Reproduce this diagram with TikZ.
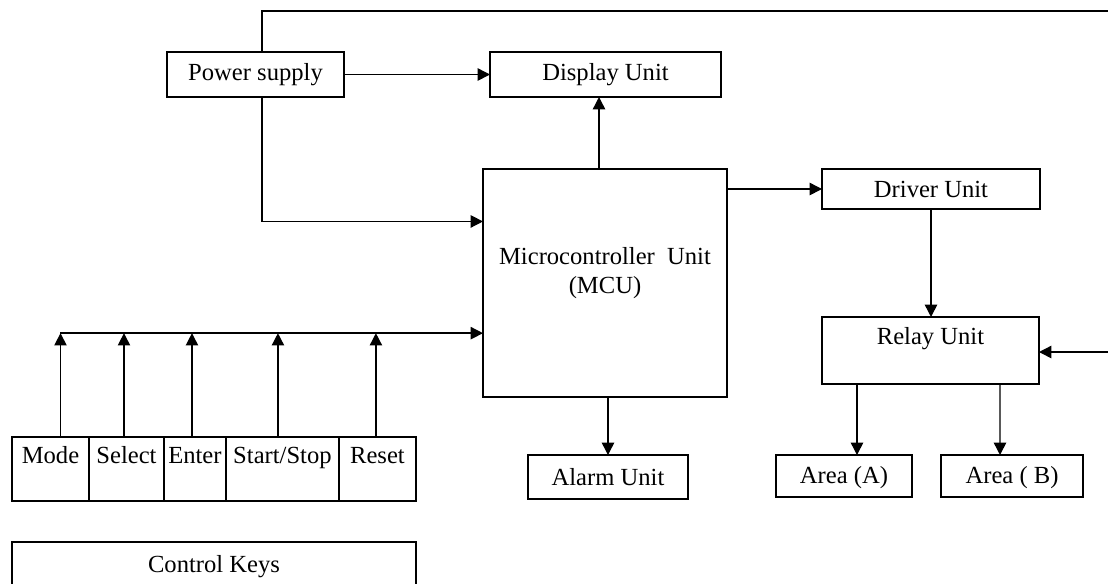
\documentclass[tikz,border=0pt]{standalone}
\usepackage{fontspec}
\setmainfont{Liberation Serif}
\usetikzlibrary{positioning,arrows.meta,calc}
\tikzset{
  blk/.style={draw, line width=0.8pt, inner sep=0pt, outer sep=0pt, font=\fontsize{14}{16.5}\selectfont},
  keycell/.style={blk, minimum height=1.28cm, text depth=16pt},
  wire/.style={line width=0.8pt},
}

\begin{document}
\begin{tikzpicture}[x=0.02cm, y=-0.02cm, >={Triangle[length=7pt,width=7pt]}]
  \useasboundingbox (0,0) rectangle (1108,583);
  % blocks
  \node[blk, minimum width=3.54cm, minimum height=0.9cm] (psu) at (255.5,74.5) {Power supply};
  \node[blk, minimum width=4.62cm, minimum height=0.9cm] (disp) at (605.5,74.5) {Display Unit};
  \node[blk, minimum width=4.88cm, minimum height=4.56cm, align=center, text depth=14pt] (mcu) at (605,283)
    {Microcontroller\ \ Unit\\(MCU)};
  \node[blk, minimum width=4.36cm, minimum height=0.8cm] (drv) at (931,189) {Driver Unit};
  \node[blk, minimum width=4.34cm, minimum height=1.34cm, text depth=16pt] (relay) at (930.5,350.5) {Relay Unit};
  \node[blk, minimum width=3.2cm, minimum height=0.88cm] (alarm) at (608,477) {Alarm Unit};
  \node[blk, minimum width=2.72cm, minimum height=0.84cm, text depth=1pt] (areaA) at (844,476) {Area (A)};
  \node[blk, minimum width=2.84cm, minimum height=0.84cm, text depth=1pt] (areaB) at (1012,476) {Area ( B)};
  % keys
  \node[keycell, minimum width=1.54cm, anchor=north west] (mode) at (12,437) {Mode};
  \node[keycell, minimum width=1.5cm, right=0pt of mode] (select) {Select};
  \node[keycell, minimum width=1.24cm, right=0pt of select] (enter) {Enter};
  \node[keycell, minimum width=2.26cm, right=0pt of enter] (start) {Start/Stop};
  \node[keycell, minimum width=1.54cm, right=0pt of start] (reset) {Reset};
  \node[blk, minimum width=8.08cm, minimum height=1cm] (ctrl) at (214,567) {Control Keys};
  % free ends
  \coordinate (topR) at (1108,11);
  \coordinate (sideR) at (1108,352);
  \coordinate (mcuinA) at ($(mcu.north west)!0.23!(mcu.south west)$);
  \coordinate (bus) at ($(mcu.north west)!0.72!(mcu.south west)$);
  \coordinate (mcuup) at ($(mcu.north)+(-6,0)$);
  \coordinate (modetop) at ($(mode.north)+(10,0)$);
  % connectors
  \draw[wire] ($(psu.north)+(6.5,0)$) |- (topR);
  \draw[wire,->] (psu.east) -- (disp.west);
  \draw[wire,->] ($(psu.south)+(6.5,0)$) |- (mcuinA);
  \draw[wire,->] (mcuup) -- (mcuup |- disp.south);
  \draw[wire,->] (mcu.east |- drv.west) -- (drv.west);
  \draw[wire,->] (drv.south) -- (drv.south |- relay.north);
  \draw[wire,->] (sideR) -- (relay.east |- sideR);
  \draw[wire,->] ($(relay.south)+(-73.5,0)$) -- ($(areaA.north)+(13,0)$);
  \draw[wire,->] ($(relay.south)+(69.5,0)$) -- ($(areaB.north)+(-12,0)$);
  \draw[wire,->] (alarm.north |- mcu.south) -- (alarm.north);
  \draw[wire,->] (modetop |- bus) -- (bus);
  \foreach \k/\dx in {mode/10,select/-2.5,enter/-3,start/-4.5,reset/-1.5}{
    \coordinate (ktop) at ($(\k.north)+(\dx,0)$);
    \draw[wire,->] (ktop) -- (ktop |- bus);
  }
\end{tikzpicture}
\end{document}
